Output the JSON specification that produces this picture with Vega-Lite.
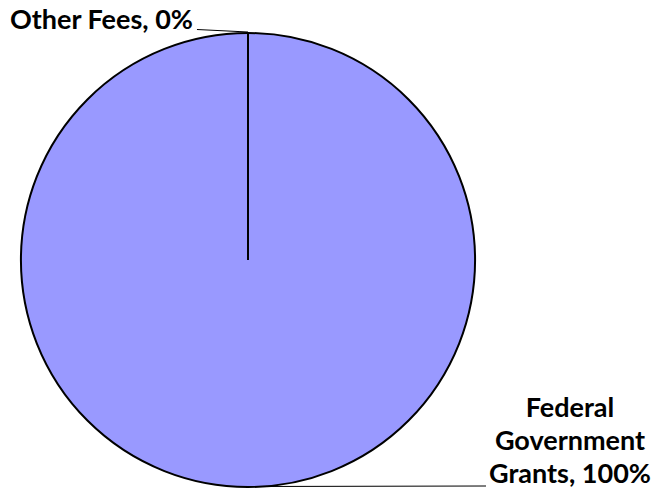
{
  "$schema": "https://vega.github.io/schema/vega-lite/v6.json",
  "width": 454,
  "height": 454,
  "autosize": {"type": "none"},
  "padding": {"left": 21, "top": 33, "right": 177, "bottom": 8},
  "background": "white",
  "config": {"view": {"stroke": null}},
  "datasets": {
    "shares": [
      {"source": "Federal Government Grants", "pct": 100},
      {"source": "Other Fees", "pct": 0}
    ],
    "callouts": [
      {"label": "Other Fees, 0%", "tx": -0.2423, "ty": 1.0176, "align": "right", "x1": -0.2247, "y1": 1.0154, "x2": 0.0, "y2": 1.0044},
      {"label": "Federal\nGovernment\nGrants, 100%", "tx": 1.4185, "ty": -0.6916, "align": "center", "x1": 0.0044, "y1": -0.9978, "x2": 1.0485, "y2": -0.9956}
    ]
  },
  "layer": [
    {
      "data": {"name": "shares"},
      "mark": {"type": "arc", "fill": "#9999FF", "stroke": "#000000", "strokeWidth": 2},
      "encoding": {
        "theta": {"field": "pct", "type": "quantitative", "stack": true},
        "order": {"field": "pct", "type": "quantitative", "sort": "descending"}
      }
    },
    {
      "data": {"name": "callouts"},
      "mark": {"type": "rule", "stroke": "#000000", "strokeWidth": 1.2},
      "encoding": {
        "x": {"field": "x1", "type": "quantitative", "scale": {"domain": [-1, 1], "nice": false, "zero": false}, "axis": null},
        "y": {"field": "y1", "type": "quantitative", "scale": {"domain": [-1, 1], "nice": false, "zero": false}, "axis": null},
        "x2": {"field": "x2"},
        "y2": {"field": "y2"}
      }
    },
    {
      "data": {"name": "callouts"},
      "transform": [{"filter": "datum.align == 'right'"}],
      "mark": {"type": "text", "font": "Lato", "fontWeight": "bold", "fontSize": 27, "align": "right", "baseline": "alphabetic", "color": "#000000"},
      "encoding": {
        "x": {"field": "tx", "type": "quantitative", "scale": {"domain": [-1, 1], "nice": false, "zero": false}, "axis": null},
        "y": {"field": "ty", "type": "quantitative", "scale": {"domain": [-1, 1], "nice": false, "zero": false}, "axis": null},
        "text": {"field": "label"}
      }
    },
    {
      "data": {"name": "callouts"},
      "transform": [{"filter": "datum.align == 'center'"}],
      "mark": {"type": "text", "font": "Lato", "fontWeight": "bold", "fontSize": 27, "align": "center", "baseline": "alphabetic", "lineBreak": "\n", "lineHeight": 33, "color": "#000000"},
      "encoding": {
        "x": {"field": "tx", "type": "quantitative", "scale": {"domain": [-1, 1], "nice": false, "zero": false}, "axis": null},
        "y": {"field": "ty", "type": "quantitative", "scale": {"domain": [-1, 1], "nice": false, "zero": false}, "axis": null},
        "text": {"field": "label"}
      }
    }
  ]
}
